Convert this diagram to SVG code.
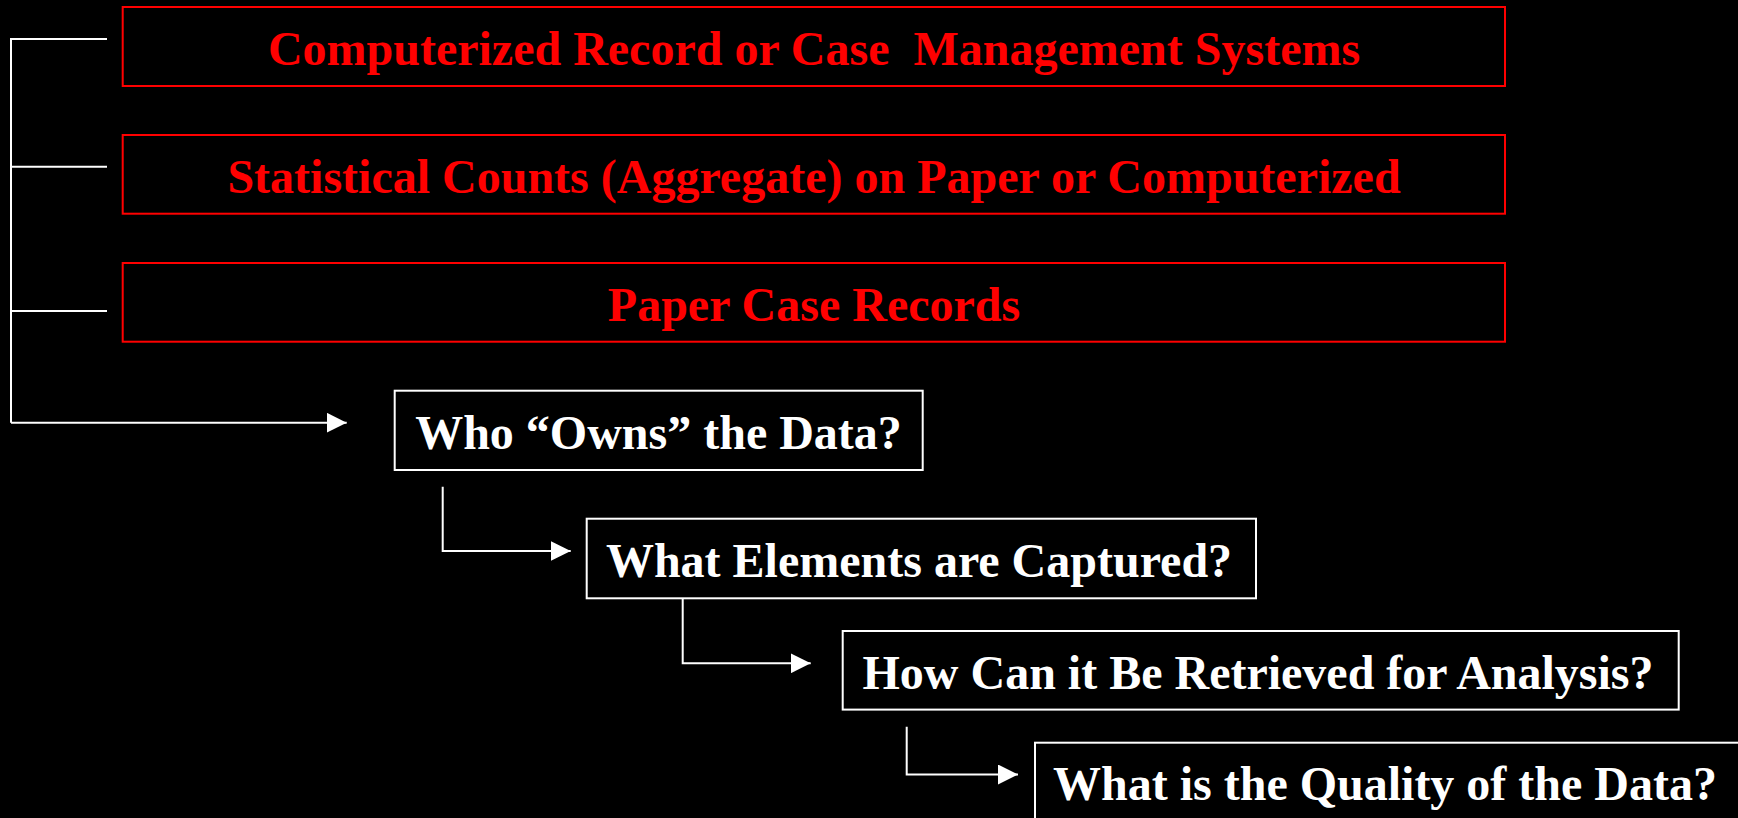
<svg xmlns="http://www.w3.org/2000/svg" width="1738" height="818" viewBox="0 0 1738 818">
  <style>
    .red-box { fill: none; stroke: #FF0000; stroke-width: 2; }
    .white-box { fill: none; stroke: #FFFFFF; stroke-width: 2; }
    .red-text { fill: #FF0000; font-family: "Liberation Serif", "Times New Roman", serif; font-weight: bold; font-size: 48px; text-anchor: middle; }
    .white-text { fill: #FFFFFF; font-family: "Liberation Serif", "Times New Roman", serif; font-weight: bold; font-size: 48px; text-anchor: middle; }
    .conn { fill: none; stroke: #FFFFFF; stroke-width: 2; }
  </style>
  <defs>
    <marker id="arrow" markerUnits="userSpaceOnUse" markerWidth="20" markerHeight="20" refX="20" refY="10" orient="auto">
      <polygon points="0,0 20,10 0,20" fill="#FFFFFF"/>
    </marker>
  </defs>
  <rect x="0" y="0" width="1738" height="818" fill="#000000"/>

  <g id="connectors">
    <path class="conn" d="M107,39 H11 V422.7"/>
    <path class="conn" d="M11,166.7 H107"/>
    <path class="conn" d="M11,311 H107"/>
    <path class="conn" d="M11,422.7 H346.7" marker-end="url(#arrow)"/>
    <path class="conn" d="M442.7,486.7 V551 H570.7" marker-end="url(#arrow)"/>
    <path class="conn" d="M682.7,598.3 V663.3 H810.7" marker-end="url(#arrow)"/>
    <path class="conn" d="M906.7,726.7 V774.5 H1018" marker-end="url(#arrow)"/>
  </g>

  <g id="node-computerized">
    <rect class="red-box" x="122.7" y="7" width="1382.3" height="79"/>
    <text class="red-text" x="814" y="65" xml:space="preserve">Computerized Record or Case  Management Systems</text>
  </g>
  <g id="node-statistical">
    <rect class="red-box" x="122.7" y="135" width="1382.3" height="78.7"/>
    <text class="red-text" x="814" y="193">Statistical Counts (Aggregate) on Paper or Computerized</text>
  </g>
  <g id="node-paper">
    <rect class="red-box" x="122.7" y="263" width="1382.3" height="78.7"/>
    <text class="red-text" x="814" y="321">Paper Case Records</text>
  </g>
  <g id="node-owns">
    <rect class="white-box" x="394.7" y="390.7" width="528" height="79.3"/>
    <text class="white-text" x="658.5" y="449">Who “Owns” the Data?</text>
  </g>
  <g id="node-elements">
    <rect class="white-box" x="586.7" y="518.7" width="669.3" height="79.6"/>
    <text class="white-text" x="919" y="576.5">What Elements are Captured?</text>
  </g>
  <g id="node-retrieved">
    <rect class="white-box" x="842.7" y="631" width="836" height="78.6"/>
    <text class="white-text" x="1258" y="688.5">How Can it Be Retrieved for Analysis?</text>
  </g>
  <g id="node-quality">
    <rect class="white-box" x="1035" y="742.7" width="720" height="100"/>
    <text class="white-text" x="1385" y="800">What is the Quality of the Data?</text>
  </g>
</svg>
